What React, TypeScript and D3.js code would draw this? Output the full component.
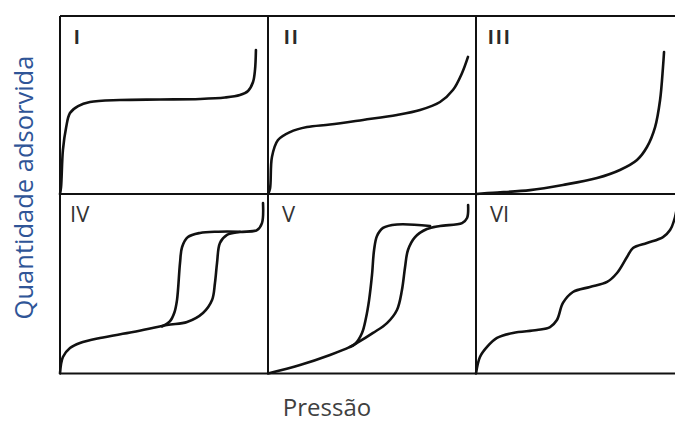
import React from "react";
import * as d3 from "d3";

// Relative pressure (0..1 of panel width) vs. adsorbed amount (0..1 of panel height)
type Pt = [number, number];

const panelLabels = ["I", "II", "III", "IV", "V", "VI"];

const typeI: Pt[] = [
  [0, 0], [0.005, 0.039], [0.014, 0.247], [0.029, 0.371], [0.048, 0.455],
  [0.087, 0.494], [0.144, 0.517], [0.288, 0.528], [0.481, 0.531], [0.673, 0.534],
  [0.793, 0.542], [0.865, 0.556], [0.904, 0.579], [0.928, 0.629], [0.9375, 0.697],
  [0.942, 0.809],
];

const typeII: Pt[] = [
  [0, 0], [0.0096, 0.03], [0.019, 0.208], [0.048, 0.303], [0.106, 0.348],
  [0.1875, 0.376], [0.298, 0.39], [0.457, 0.416], [0.62, 0.444], [0.731, 0.472],
  [0.827, 0.517], [0.889, 0.584], [0.933, 0.68], [0.9615, 0.77],
];

const typeIII: Pt[] = [
  [0, 0], [0.082, 0.007], [0.26, 0.022], [0.418, 0.051], [0.582, 0.09],
  [0.692, 0.135], [0.774, 0.191], [0.822, 0.264], [0.861, 0.376], [0.885, 0.528],
  [0.899, 0.713], [0.904, 0.798],
];

const typeIVAdsorption: Pt[] = [
  [0, 0], [0.014, 0.092], [0.048, 0.142], [0.096, 0.17], [0.192, 0.198],
  [0.351, 0.231], [0.514, 0.27], [0.611, 0.287], [0.6875, 0.337], [0.731, 0.409],
  [0.745, 0.504], [0.755, 0.616], [0.769, 0.727], [0.803, 0.772], [0.865, 0.788],
  [0.947, 0.799], [0.971, 0.838], [0.976, 0.95],
];

const typeIVDesorption: Pt[] = [
  [0.49, 0.262], [0.528, 0.29], [0.55, 0.34], [0.5625, 0.409], [0.577, 0.616],
  [0.587, 0.705], [0.615, 0.76], [0.673, 0.783], [0.76, 0.79], [0.865, 0.79],
];

const typeVAdsorption: Pt[] = [
  [0, 0], [0.154, 0.047], [0.298, 0.103], [0.394, 0.148], [0.428, 0.17],
  [0.505, 0.226], [0.572, 0.281], [0.62, 0.354], [0.644, 0.465], [0.659, 0.593],
  [0.673, 0.688], [0.707, 0.76], [0.764, 0.805], [0.827, 0.822], [0.933, 0.838],
  [0.957, 0.866], [0.962, 0.939],
];

const typeVDesorption: Pt[] = [
  [0.394, 0.148], [0.418, 0.164], [0.452, 0.226], [0.471, 0.309], [0.486, 0.409],
  [0.5, 0.549], [0.51, 0.688], [0.524, 0.766], [0.553, 0.811], [0.62, 0.83],
  [0.779, 0.822],
];

const typeVI: Pt[] = [
  [0, 0], [0.019, 0.092], [0.053, 0.148], [0.101, 0.198], [0.178, 0.226],
  [0.293, 0.242], [0.356, 0.259], [0.389, 0.298], [0.418, 0.393], [0.466, 0.454],
  [0.548, 0.482], [0.63, 0.51], [0.678, 0.56], [0.726, 0.649], [0.755, 0.699],
  [0.822, 0.727], [0.899, 0.76], [0.933, 0.799], [0.957, 0.872], [0.971, 0.967],
];

const yTitle = "Quantidade adsorvida";
const xTitle = "Pressão";

// Grid geometry
const W = 675;
const H = 423;
const gridLeft = 60;
const colWidth = 208;
const rowEdges = [16, 194, 373.5];

const panels = [
  { row: 0, col: 0, series: [typeI], dx: 14 },
  { row: 0, col: 1, series: [typeII], dx: 16 },
  { row: 0, col: 2, series: [typeIII], dx: 12 },
  { row: 1, col: 0, series: [typeIVAdsorption, typeIVDesorption], dx: 10 },
  { row: 1, col: 1, series: [typeVAdsorption, typeVDesorption], dx: 14 },
  { row: 1, col: 2, series: [typeVI], dx: 14 },
];

export default function App() {
  const lineColor = "#111";
  return (
    <svg
      width={W}
      height={H}
      style={{ position: "absolute", left: 0, top: 0, background: "#fff" }}
    >
      <rect width={W} height={H} fill="#fff" />
      {panels.map((p, i) => {
        const x0 = gridLeft + p.col * colWidth;
        const top = rowEdges[p.row];
        const bottom = rowEdges[p.row + 1];
        const x = d3.scaleLinear().domain([0, 1]).range([x0, x0 + colWidth]);
        const y = d3.scaleLinear().domain([0, 1]).range([bottom, top]);
        const line = d3
          .line<Pt>()
          .x((d) => x(d[0]))
          .y((d) => y(d[1]))
          .curve(d3.curveCatmullRom.alpha(0.5));
        const label = panelLabels[i];
        return (
          <g key={label}>
            {p.series.map((s, j) => (
              <path
                key={j}
                d={line(s) || ""}
                fill="none"
                stroke={lineColor}
                strokeWidth={2.6}
                strokeLinecap="round"
                strokeLinejoin="round"
              />
            ))}
            {p.row === 0 ? (
              <text
                x={x0 + p.dx}
                y={top + 28}
                fontFamily="'Liberation Sans', sans-serif"
                fontWeight="bold"
                fontSize={20}
                letterSpacing={2.5}
                fill="#2a2a2a"
              >
                {label}
              </text>
            ) : (
              <text
                x={x0 + p.dx}
                y={top + 28}
                fontFamily="'Open Sans', sans-serif"
                fontSize={22}
                fill="#333"
              >
                {label}
              </text>
            )}
          </g>
        );
      })}

      {/* grid frame */}
      <g stroke={lineColor} strokeWidth={2} fill="none">
        {rowEdges.map((ry) => (
          <line key={"h" + ry} x1={gridLeft} x2={W} y1={ry} y2={ry} />
        ))}
        {[0, 1, 2].map((c) => (
          <line
            key={"v" + c}
            x1={gridLeft + c * colWidth}
            x2={gridLeft + c * colWidth}
            y1={rowEdges[0]}
            y2={rowEdges[2]}
          />
        ))}
      </g>

      {/* axis titles */}
      <text
        transform={`translate(33, 187.5) rotate(-90)`}
        textAnchor="middle"
        fontFamily="'Open Sans', sans-serif"
        fontSize={25.5}
        fill="#2f5597"
      >
        {yTitle}
      </text>
      <text
        x={327}
        y={416}
        textAnchor="middle"
        fontFamily="'Open Sans', sans-serif"
        fontSize={24}
        fill="#404040"
      >
        {xTitle}
      </text>
    </svg>
  );
}
